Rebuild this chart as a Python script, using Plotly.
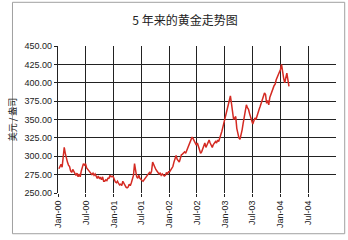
import pandas as pd
import plotly.graph_objects as go

# Weekly gold price (USD / oz)
prices_2000 = [283, 286, 289, 285,
               302, 312, 304, 296,
               292, 288, 286, 280, 278,
               282, 279, 276, 274,
               277, 272, 276, 272,
               280, 286, 290, 288, 290,
               284, 282, 280, 278,
               276, 275, 277, 274,
               276, 272, 270, 273, 270,
               271, 268, 272, 266,
               266, 268, 267, 270,
               270, 274, 272, 273, 272]
prices_2001 = [268, 265, 264, 266,
               263, 261, 262, 260,
               266, 263, 260, 258, 257,
               258, 262, 260, 264,
               268, 274, 290, 280,
               272, 270, 274, 270, 268,
               267, 266, 268, 270,
               272, 274, 276, 278, 276,
               280, 292, 288, 284,
               282, 280, 278, 276,
               277, 274, 276, 274, 273,
               274, 278, 276, 279]
prices_2002 = [279, 282, 284, 286,
               292, 298, 301, 296,
               294, 292, 297, 302, 303,
               304, 306, 304, 308,
               310, 314, 318, 322, 326,
               324, 320, 318, 315,
               318, 312, 308, 304,
               306, 310, 314, 318, 312,
               316, 320, 322, 318,
               314, 312, 316, 318,
               320, 318, 322, 320, 324,
               328, 334, 340, 346]
prices_2003 = [350, 356, 364, 370, 376,
               382, 372, 358, 350,
               352, 354, 338, 330,
               325, 323, 328, 336,
               345, 352, 362, 370, 366,
               364, 358, 352, 346,
               344, 348, 352, 350,
               356, 360, 364, 368, 372,
               378, 380, 386, 384,
               372, 376, 370, 380, 385,
               388, 392, 396, 398,
               404, 408, 412, 415]
prices_2004 = [418, 425, 412, 406, 400, 410, 413, 404, 395]

prices = prices_2000 + prices_2001 + prices_2002 + prices_2003 + prices_2004
dates = pd.date_range("2000-01-07", periods=len(prices), freq="7D")

tick_dates = ["2000-01-01", "2000-07-01", "2001-01-01", "2001-07-01", "2002-01-01",
              "2002-07-01", "2003-01-01", "2003-07-01", "2004-01-01", "2004-07-01"]
tick_labels = ["Jan-00", "Jul-00", "Jan-01", "Jul-01", "Jan-02",
               "Jul-02", "Jan-03", "Jul-03", "Jan-04", "Jul-04"]

title_text = "5 年来的黄金走势图"
y_title = "美元 / 盎司"

fig = go.Figure()
fig.add_trace(go.Scatter(x=dates, y=prices, mode="lines",
                         line=dict(color="#d42a22", width=1.5),
                         showlegend=False, hoverinfo="skip"))

L, R, T, B = 49, 12, 46, 46
W, H = 348, 240
pw, ph = W - L - R, H - T - B

def px_x(p):
    return (p - L) / pw

def px_y(p):
    return (H - B - p) / ph

fig.update_layout(
    width=W, height=H,
    margin=dict(l=L, r=R, t=T, b=B, pad=0),
    paper_bgcolor="white", plot_bgcolor="white",
    font=dict(family="Liberation Sans, Arial", color="#222222", size=9),
    title=dict(text=title_text, x=185 / W, xanchor="center", xref="container",
               y=1 - 21 / H, yanchor="middle", yref="container",
               font=dict(family="Noto Sans CJK SC", size=12, color="#222222")),
    xaxis=dict(range=["2000-01-01", "2005-01-01"], tickmode="array",
               tickvals=tick_dates, ticktext=tick_labels, tickangle=-90,
               showgrid=True, gridcolor="#222222", gridwidth=1.4,
               showline=False, zeroline=False,
               ticks="outside", ticklen=3, tickcolor="#222222",
               tickfont=dict(size=9, family="Liberation Sans, Arial", color="#222222")),
    yaxis=dict(range=[250, 450], dtick=25, tick0=250, tickformat=".2f",
               showgrid=True, gridcolor="#222222", gridwidth=1.4,
               showline=True, linecolor="#222222", linewidth=1.4,
               zeroline=False, ticks="outside", ticklen=3, tickcolor="#222222",
               tickfont=dict(size=9, family="Liberation Sans, Arial", color="#222222"),
               title=dict(text=y_title, standoff=6,
                          font=dict(family="Noto Sans CJK SC", size=9, color="#222222"))),
    shapes=[dict(type="rect", xref="paper", yref="paper",
                 x0=px_x(2), x1=px_x(345), y0=px_y(235), y1=px_y(2),
                 line=dict(color="#a0a0a0", width=1), fillcolor="rgba(0,0,0,0)",
                 layer="below")],
)

fig.write_html("out.html")
